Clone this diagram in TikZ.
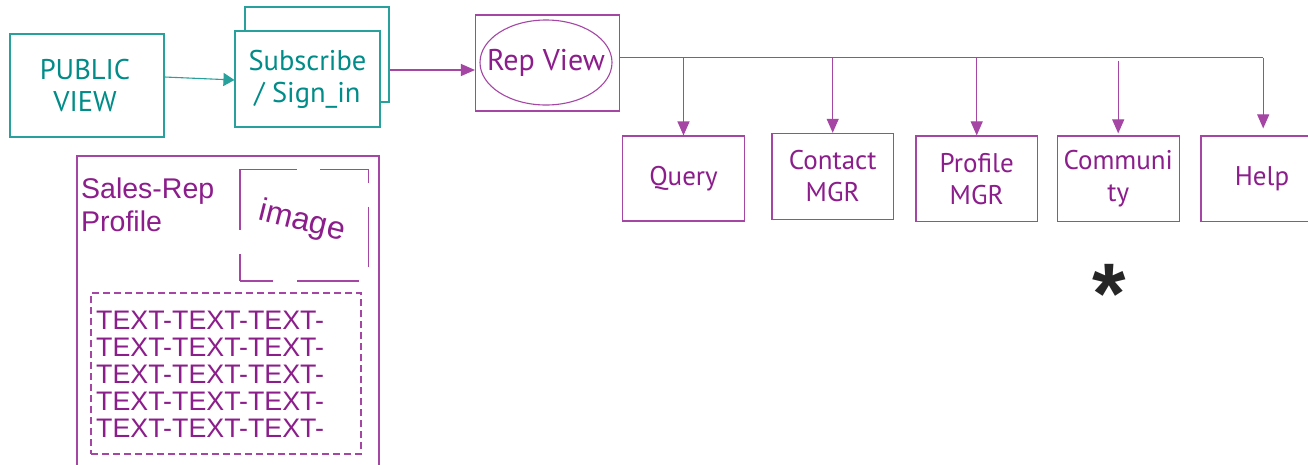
\documentclass[tikz,border=0pt]{standalone}
\usepackage{fontspec}
\setmainfont{Liberation Sans}
\newfontfamily\hum{PT Sans}
\usetikzlibrary{arrows.meta,calc,shapes.geometric}
\definecolor{tealc}{RGB}{0,140,136}
\definecolor{tealL}{RGB}{40,160,155}
\definecolor{purp}{RGB}{140,30,140}
\definecolor{purpL}{RGB}{165,70,165}
\tikzset{
  tbox/.style={draw=tealL, line width=1.1pt, text=tealc, align=center, inner sep=0pt,
    font=\hum\fontsize{28.5}{32}\selectfont},
  pbox/.style={draw=purpL, line width=1.1pt, text=purp, align=center, inner sep=0pt,
    font=\hum\fontsize{27}{32}\selectfont},
  parr/.style={draw=purpL, line width=1.1pt, -{Triangle[length=14pt,width=12pt]}},
  tarr/.style={draw=tealL, line width=1.1pt, -{Triangle[length=11pt,width=13pt]}},
  plabel/.style={text=purp, inner sep=0pt, font=\fontsize{28.5}{30}\selectfont},
  pline/.style={draw=purpL, line width=1.1pt},
}
\begin{document}
\begin{tikzpicture}[x=1pt,y=-1pt]
\clip (0,0) rectangle (1308,464);
\fill[white] (0,0) rectangle (1308,464);
% teal part
\node[tbox, minimum width=154pt, minimum height=103pt] (pub) at (87,85.5) {};
\node[text=tealc, align=center, inner sep=0pt, font=\hum\fontsize{28.5}{32}\selectfont] (publbl) at (85,85.5) {PUBLIC\\VIEW};
\node[tbox, minimum width=144pt, minimum height=95pt] (subback) at (317,54.5) {};
\node[tbox, fill=white, minimum width=145pt, minimum height=96pt] (sub) at (307.5,79) {Subscribe\\/ Sign\_in};
\draw[tarr] ([yshift=8.5pt]pub.east) -- ([yshift=-1pt]sub.west);
% rep view
\node[pbox, minimum width=144pt, minimum height=96pt] (rep) at (547.5,63) {};
\node[pbox, ellipse, minimum width=132pt, minimum height=85pt] (repe) at (546,62.5) {};
\node[text=purp, inner sep=0pt, font=\hum\fontsize{30}{32}\selectfont] (replbl) at (repe.center) {Rep View};
\draw[parr] ([yshift=-15.5pt]subback.east) -- ([yshift=-7pt]rep.west);
% children
\node[pbox, minimum width=122pt, minimum height=85pt] (query) at (683.5,178.5) {Query};
\node[pbox, minimum width=121.5pt, minimum height=85.7pt] (contact) at (832.7,176.2) {Contact\\MGR};
\node[pbox, minimum width=121.5pt, minimum height=85.7pt] (profile) at (976.7,178.8) {Profile\\MGR};
\node[pbox, minimum width=122pt, minimum height=85.7pt] (comm) at (1118.2,178.8) {Communi\\ty};
\node[pbox, minimum width=122pt, minimum height=85.7pt] (help) at (1262,178.8) {Help};
\coordinate (trunk) at ([yshift=5.3pt]rep.east);
\coordinate (trunkend) at (1263.2,57.7);
\draw[pline] (trunk) -- (trunkend);
\draw[parr] (trunk -| query.north) -- (query.north);
\draw[parr] (trunk -| contact.north) -- (contact.north);
\draw[parr] (trunk -| profile.north) -- (profile.north);
\draw[parr, shorten >=2pt] ([yshift=-3pt]trunk -| comm.north) -- (comm.north);
\draw[parr, shorten >=7pt] (trunkend) -- (trunkend |- help.north);
% profile panel
\node[draw=purpL, line width=1.1pt, minimum width=302pt, minimum height=330pt, inner sep=0pt] (sales) at (228,321) {};
\node[plabel, anchor=base west] (salesA) at (81,198) {Sales-Rep};
\node[plabel, anchor=base west] (salesB) at (81,231) {Profile};
\draw[pline] (240,169.3) -- (297,169.3) (320,169.3) -- (368.3,169.3) -- (368.3,183.3)
  (368.3,206.7) -- (368.3,267.3)
  (240,281) -- (273.3,281) (297.3,281) -- (359,281)
  (240,169.3) -- (240,230) (240,254) -- (240,281);
\node[plabel, rotate=-14, font=\fontsize{32}{34}\selectfont] (img) at (302,222) {image};
\node[draw=purpL, line width=1.1pt, dashed, dash pattern=on 7pt off 4pt, minimum width=270pt, minimum height=161pt, inner sep=0pt] (textbox) at (226,373.5) {};
\node[plabel, anchor=west, align=left, font=\fontsize{26.8}{27}\selectfont] (texts) at (96,374)
  {TEXT-TEXT-TEXT-\\TEXT-TEXT-TEXT-\\TEXT-TEXT-TEXT-\\TEXT-TEXT-TEXT-\\TEXT-TEXT-TEXT-};
\node[text=black!85, inner sep=0pt, font=\fontsize{86}{86}\selectfont\bfseries] (ast) at (1109,294) {*};
\end{tikzpicture}
\end{document}
